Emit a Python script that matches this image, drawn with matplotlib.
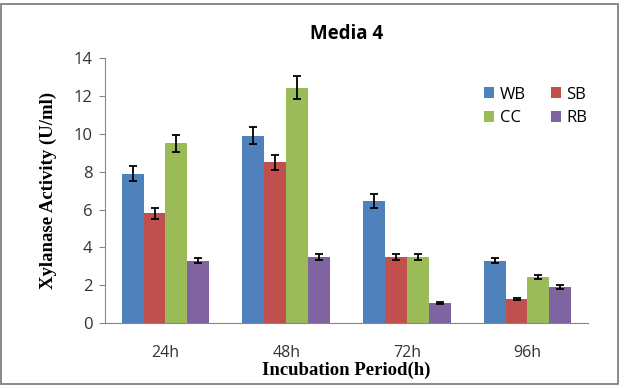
import numpy as np
import matplotlib
matplotlib.use("Agg")
import matplotlib.pyplot as plt
from matplotlib.patches import Rectangle

# 데이터
periods = ["24h", "48h", "72h", "96h"]
series = ["WB", "SB", "CC", "RB"]
wb = [7.9, 9.9, 6.45, 3.3]
sb = [5.8, 8.5, 3.5, 1.25]
cc = [9.5, 12.45, 3.5, 2.45]
rb = [3.3, 3.5, 1.05, 1.9]
wb_err = [0.4, 0.45, 0.35, 0.15]
sb_err = [0.3, 0.4, 0.15, 0.05]
cc_err = [0.45, 0.6, 0.15, 0.1]
rb_err = [0.15, 0.15, 0.05, 0.1]

colors = ["#4F81BD", "#C0504D", "#9BBB59", "#8064A2"]
values = [wb, sb, cc, rb]
errors = [wb_err, sb_err, cc_err, rb_err]

sans = ["Open Sans", "DejaVu Sans"]
serif = ["Liberation Serif", "DejaVu Serif"]

fig = plt.figure(figsize=(6.26, 3.88), dpi=100)
ax = fig.add_axes([0.168, 0.1675, 0.771, 0.682])

x = np.arange(len(periods))
w = 0.182
bars = []
for i, (name, vals, errs) in enumerate(zip(series, values, errors)):
    pos = x + (i - 1.5) * w
    b = ax.bar(pos, vals, width=w, color=colors[i], label=name, zorder=2)
    bars.append(b)
    ax.errorbar(pos, vals, yerr=errs, fmt="none", ecolor="black",
                elinewidth=1.3, capsize=3, capthick=1.3, zorder=3)

ax.set_xlim(-0.5, 3.5)
ax.set_ylim(0, 14)
ax.set_yticks(range(0, 15, 2))
ax.set_xticks(x)
ax.set_xticklabels(periods, fontsize=11.5, family=sans, color="#333333")
for lab in ax.get_yticklabels():
    lab.set_fontsize(12)
    lab.set_family(sans)
    lab.set_color("#333333")

ax.tick_params(axis="x", length=0, pad=16)
ax.tick_params(axis="y", length=4, color="#868686", pad=5)
for s in ["top", "right"]:
    ax.spines[s].set_visible(False)
for s in ["left", "bottom"]:
    ax.spines[s].set_color("#868686")

ax.set_title("Media 4", fontsize=13.5, fontweight="bold", family=sans, pad=14)
ax.set_ylabel("Xylanase Activity (U/ml)", fontsize=13.5, fontweight="bold",
              family=serif, labelpad=12)
ax.set_xlabel("Incubation Period(h)", fontsize=13.5, fontweight="bold",
              family=serif, labelpad=0.5)

# 범례: 행 순서 WB SB / CC RB
order = [0, 2, 1, 3]
ax.legend([bars[i] for i in order], [series[i] for i in order],
          ncol=2, frameon=False, loc="upper right", bbox_to_anchor=(1.03, 0.95),
          prop={"family": sans, "size": 12}, handlelength=0.6, handleheight=0.6,
          handletextpad=0.35, columnspacing=1.5, labelspacing=0.45)

# 바깥 테두리
fig.patches.append(Rectangle((0.002, 0.0103), 0.985, 0.979, transform=fig.transFigure,
                             fill=False, edgecolor="#808080", linewidth=1.3))

fig.savefig("out.png", dpi=100)
